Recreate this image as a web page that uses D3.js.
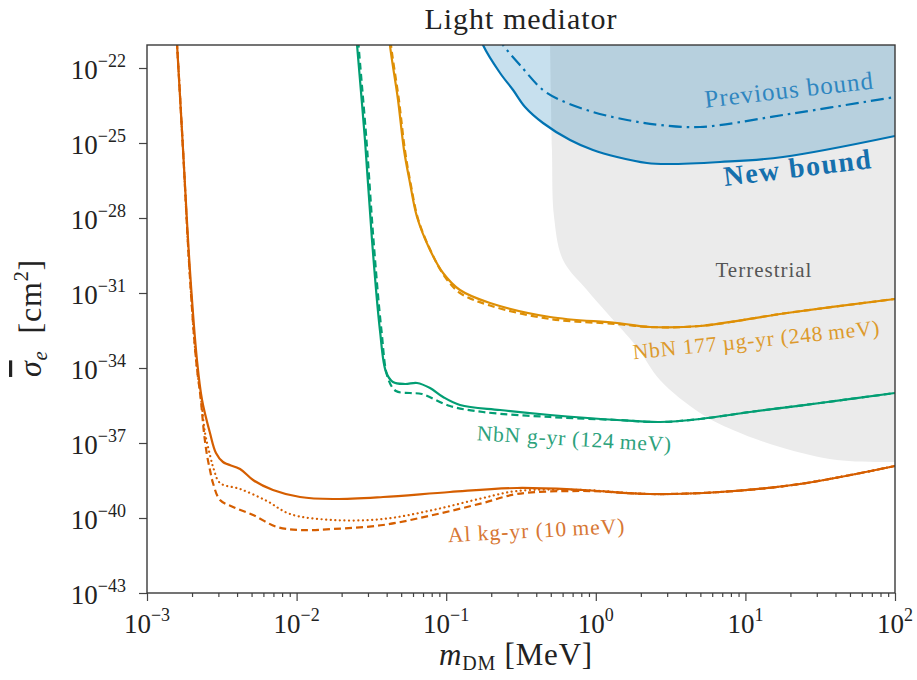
<!DOCTYPE html>
<html lang="en">
<head>
<meta charset="UTF-8">
<title>Light mediator</title>
<style>
    body { margin: 0; background: white; }
    svg { display: block; }
    text { font-family: "Liberation Serif", "DejaVu Serif", serif; fill: #222; }
    .curve { fill: none; stroke-width: 2.2; stroke-linejoin: round; }
    .dashed { stroke-dasharray: 7 4; }
    .dotted { stroke-dasharray: 0.1 4.5; stroke-linecap: round; }
    .dashdot { stroke-dasharray: 13 5 2.5 5; }
    .tick line { stroke: #444; stroke-width: 1.2; }
</style>
</head>
<body>
<svg class="chart" width="917" height="680"></svg>
<script src="https://cdn.jsdelivr.net/npm/d3@7"></script>
<script>

// every point is [log10(m_DM / MeV), log10(sigma_e / cm^2)]
const terrestrialEdge = [[-0.306, -20.9], [-0.293, -25.28], [-0.279, -27.96], [-0.219, -29.68],
    [-0.059, -30.88], [0.075, -31.8], [0.275, -33.16], [0.429, -34.48], [0.697, -35.8],
    [0.917, -36.48], [1.231, -37.16], [1.612, -37.68], [2.0, -37.76]];

const newBound = [[-0.787, -20.48], [-0.754, -21.08], [-0.640, -22.2], [-0.553, -22.88],
    [-0.473, -23.56], [-0.353, -24.2], [-0.172, -24.88], [-0.019, -25.28], [0.142, -25.56],
    [0.342, -25.8], [0.476, -25.84], [0.830, -25.76], [1.251, -25.56], [2.0, -24.72]];

const previousBound = [[-0.660, -20.68], [-0.620, -21.08], [-0.507, -21.88], [-0.353, -22.88],
    [-0.239, -23.28], [-0.019, -23.76], [0.209, -24.08], [0.429, -24.28], [0.697, -24.36],
    [1.251, -23.88], [2.0, -23.16]];

const nbnMicrogramSolid = [[-1.382, -20.48], [-1.376, -21.08], [-1.322, -23.28], [-1.282, -25.28],
    [-1.242, -26.6], [-1.195, -27.96], [-1.108, -29.28], [-1.021, -30.2], [-0.908, -30.88],
    [-0.707, -31.4], [-0.306, -31.96], [0.142, -32.2], [0.362, -32.36], [0.697, -32.32],
    [1.278, -31.8], [2.0, -31.24]];

const nbnMicrogramDashed = [[-1.376, -20.48], [-1.369, -21.08], [-1.316, -23.28], [-1.276, -25.28],
    [-1.236, -26.68], [-1.185, -28.1], [-1.095, -29.42], [-1.010, -30.34], [-0.908, -31.0],
    [-0.707, -31.5], [-0.306, -32.04], [0.142, -32.24], [0.362, -32.36], [0.697, -32.32],
    [1.278, -31.8], [2.0, -31.24]];

const nbnGramSolid = [[-1.603, -20.48], [-1.596, -21.08], [-1.543, -24.88], [-1.496, -28.88],
    [-1.443, -32.48], [-1.402, -34.16], [-1.356, -34.56], [-1.275, -34.64], [-1.195, -34.6],
    [-1.108, -34.8], [-1.021, -35.16], [-0.908, -35.48], [-0.640, -35.68], [-0.306, -35.88],
    [0.142, -36.08], [0.429, -36.16], [0.697, -36.04], [1.031, -35.76], [1.499, -35.4], [2.0, -35.0]];

const nbnGramDashed = [[-1.593, -20.48], [-1.586, -21.08], [-1.533, -24.88], [-1.486, -28.88],
    [-1.433, -32.48], [-1.390, -34.4], [-1.336, -34.92], [-1.242, -35.0], [-1.162, -35.04],
    [-0.975, -35.52], [-0.754, -35.76], [-0.306, -35.96], [0.142, -36.08], [0.429, -36.16],
    [0.697, -36.04], [1.031, -35.76], [1.499, -35.4], [2.0, -35.0]];

const alSolid = [[-2.806, -20.48], [-2.799, -21.08], [-2.759, -25.28], [-2.713, -30.08],
    [-2.666, -33.68], [-2.632, -35.28], [-2.579, -36.6], [-2.539, -37.4], [-2.492, -37.76],
    [-2.378, -38.04], [-2.291, -38.48], [-2.158, -38.88], [-1.977, -39.16], [-1.757, -39.24],
    [-1.422, -39.16], [-0.975, -38.96], [-0.527, -38.8], [-0.086, -38.88], [0.362, -39.04],
    [0.830, -38.96], [1.365, -38.64], [2.0, -37.92]];

const alDotted = [[-2.806, -20.48], [-2.799, -21.08], [-2.759, -25.28], [-2.716, -30.08],
    [-2.672, -33.68], [-2.638, -35.28], [-2.612, -36.6], [-2.579, -37.48], [-2.552, -38.08],
    [-2.512, -38.6], [-2.378, -38.84], [-2.198, -39.32], [-2.044, -39.84], [-1.757, -40.08],
    [-1.422, -40.04], [-1.088, -39.68], [-0.754, -39.2], [-0.527, -38.92], [-0.086, -38.88],
    [0.362, -39.04], [0.830, -38.96], [1.365, -38.64], [2.0, -37.92]];

const alDashed = [[-2.806, -20.48], [-2.799, -21.08], [-2.759, -25.28], [-2.716, -30.08],
    [-2.672, -33.68], [-2.640, -35.28], [-2.619, -36.6], [-2.599, -37.48], [-2.579, -38.08],
    [-2.559, -38.6], [-2.512, -39.28], [-2.425, -39.56], [-2.291, -39.88], [-2.131, -40.36],
    [-1.977, -40.48], [-1.757, -40.44], [-1.422, -40.28], [-1.088, -39.88], [-0.754, -39.4],
    [-0.527, -39.04], [-0.086, -38.92], [0.362, -39.04], [0.830, -38.96], [1.365, -38.64], [2.0, -37.92]];

const xDecades = [-3, -2, -1, 0, 1, 2];
const yDecades = [-43, -40, -37, -34, -31, -28, -25, -22];
const yTopExponent = -21.08;

const width = 917,
    height = 680,
    margin = { top: 45, right: 22, bottom: 87, left: 147 };

const colors = {
    blue: "#0173b2",
    gold: "#de8f05",
    green: "#029e73",
    orange: "#d55e00"
};

const x = d3.scaleLog()
    .domain([1e-3, 1e2])
    .range([margin.left, width - margin.right]);

const y = d3.scaleLog()
    .domain([1e-43, 10 ** yTopExponent])
    .range([height - margin.bottom, margin.top]);

const line = d3.line()
    .x(d => x(10 ** d[0]))
    .y(d => y(10 ** d[1]))
    .curve(d3.curveCatmullRom.alpha(0.5));

const svg = d3.select("svg")
    .attr("viewBox", [0, 0, width, height]);

svg.append("clipPath")
    .attr("id", "plot-area")
    .append("rect")
    .attr("x", margin.left)
    .attr("y", margin.top)
    .attr("width", width - margin.left - margin.right)
    .attr("height", height - margin.top - margin.bottom);

const plot = svg.append("g")
    .attr("clip-path", "url(#plot-area)");

const xRight = x.range()[1] + 5,
    yAbove = margin.top - 20;

// terrestrial exclusion, grey
plot.append("path")
    .attr("d", line(terrestrialEdge) +
        `L${xRight},${y(10 ** terrestrialEdge[terrestrialEdge.length - 1][1])}` +
        `L${xRight},${yAbove}L${x(10 ** terrestrialEdge[0][0])},${yAbove}Z`)
    .attr("fill", "#ebebeb");

// region above the new bound, blue and see-through
plot.append("path")
    .attr("d", line(newBound) +
        `L${xRight},${y(10 ** newBound[newBound.length - 1][1])}` +
        `L${xRight},${yAbove}L${x(10 ** newBound[0][0])},${yAbove}Z`)
    .attr("fill", colors.blue)
    .attr("fill-opacity", 0.22);

const curves = [
    { data: alDashed, color: colors.orange, style: "dashed" },
    { data: alDotted, color: colors.orange, style: "dotted" },
    { data: alSolid, color: colors.orange, style: "" },
    { data: nbnGramDashed, color: colors.green, style: "dashed" },
    { data: nbnGramSolid, color: colors.green, style: "" },
    { data: nbnMicrogramDashed, color: colors.gold, style: "dashed" },
    { data: nbnMicrogramSolid, color: colors.gold, style: "" },
    { data: previousBound, color: colors.blue, style: "dashdot" },
    { data: newBound, color: colors.blue, style: "" }
];

plot.selectAll("path.curve")
    .data(curves)
    .join("path")
    .attr("class", d => `curve ${d.style}`)
    .attr("stroke", d => d.color)
    .attr("d", d => line(d.data));

// labels on the plot
const notes = [
    { text: "Previous bound", at: [1.298, -23.2], angle: -6.5, color: "#2f86c0", size: 25, weight: "normal", spacing: 1 },
    { text: "New bound", at: [1.358, -26.36], angle: -7, color: "#1670ad", size: 28, weight: "bold", spacing: 1.5 },
    { text: "Terrestrial", at: [1.124, -30.36], angle: 0, color: "#555", size: 21, weight: "normal", spacing: 1 },
    { text: "NbN 177\u2009µg-yr (248\u2009meV)", at: [1.078, -33.16], angle: -5.7, color: "#dd9a2c", size: 21.5, weight: "normal", spacing: 0.8 },
    { text: "NbN g-yr (124\u2009meV)", at: [-0.146, -37.12], angle: 3.4, color: "#2ca27c", size: 21.5, weight: "normal", spacing: 0.8 },
    { text: "Al kg-yr (10\u2009meV)", at: [-0.393, -40.78], angle: -3, color: "#d77734", size: 21.5, weight: "normal", spacing: 1 }
];

svg.selectAll("text.note")
    .data(notes)
    .join("text")
    .attr("class", "note")
    .attr("text-anchor", "middle")
    .attr("transform", d => `translate(${x(10 ** d.at[0])},${y(10 ** d.at[1])}) rotate(${d.angle})`)
    .style("fill", d => d.color)
    .style("font-size", d => `${d.size}px`)
    .style("font-weight", d => d.weight)
    .style("letter-spacing", d => `${d.spacing}px`)
    .text(d => d.text);

// axes
const isDecade = d => Math.abs(Math.log10(d) - Math.round(Math.log10(d))) < 1e-6;
const exponentText = e => String(e).replace("-", "\u2212");

const xAxis = svg.append("g")
    .attr("transform", `translate(0,${y.range()[0]})`)
    .call(d3.axisBottom(x).tickFormat("").tickSizeOuter(0));
xAxis.select(".domain").remove();
xAxis.selectAll(".tick line")
    .attr("y2", d => isDecade(d) ? 8 : 4);

const yAxis = svg.append("g")
    .attr("transform", `translate(${x.range()[0]},0)`)
    .call(d3.axisLeft(y).tickValues(yDecades.map(e => 10 ** e)).tickFormat("").tickSize(8).tickSizeOuter(0));
yAxis.select(".domain").remove();

svg.append("rect")
    .attr("x", margin.left)
    .attr("y", margin.top)
    .attr("width", width - margin.left - margin.right)
    .attr("height", height - margin.top - margin.bottom)
    .attr("fill", "none")
    .attr("stroke", "#3a3a3a")
    .attr("stroke-width", 1.4);

const xLabels = svg.selectAll("text.xlabel")
    .data(xDecades)
    .join("text")
    .attr("class", "xlabel")
    .attr("text-anchor", "middle")
    .attr("x", e => x(10 ** e))
    .attr("y", y.range()[0] + 40);
xLabels.append("tspan").style("font-size", "27px").text("10");
xLabels.append("tspan").style("font-size", "18px").attr("dy", -12).text(exponentText);

const yLabels = svg.selectAll("text.ylabel")
    .data(yDecades)
    .join("text")
    .attr("class", "ylabel")
    .attr("text-anchor", "end")
    .attr("x", x.range()[0] - 21)
    .attr("y", e => y(10 ** e) + 11);
yLabels.append("tspan").style("font-size", "27px").text("10");
yLabels.append("tspan").style("font-size", "18px").attr("dy", -12).text(exponentText);

// titles
svg.append("text")
    .attr("x", (x.range()[0] + x.range()[1]) / 2)
    .attr("y", 29)
    .attr("text-anchor", "middle")
    .style("font-size", "30px")
    .style("letter-spacing", "1px")
    .text("Light mediator");

const xTitle = svg.append("text")
    .attr("x", 516)
    .attr("y", 665)
    .attr("text-anchor", "middle")
    .style("font-size", "31px")
    .style("letter-spacing", "0.8px");
xTitle.append("tspan").style("font-style", "italic").text("m");
xTitle.append("tspan").style("font-size", "20px").attr("dy", 5).text("DM");
xTitle.append("tspan").attr("dy", -5).text(" [MeV]");

const yTitle = svg.append("text")
    .attr("transform", "translate(41,318) rotate(-90)")
    .attr("text-anchor", "middle")
    .style("font-size", "32px")
    .style("letter-spacing", "0.8px");
yTitle.append("tspan").style("font-style", "italic").style("text-decoration", "overline").text("σ");
yTitle.append("tspan").style("font-style", "italic").style("font-size", "21px").attr("dy", 6).text("e");
yTitle.append("tspan").attr("dy", -6).text("\u2002[cm");
yTitle.append("tspan").style("font-size", "20px").attr("dy", -13).text("2");
yTitle.append("tspan").attr("dy", 13).text("]");

</script>
</body>
</html>
